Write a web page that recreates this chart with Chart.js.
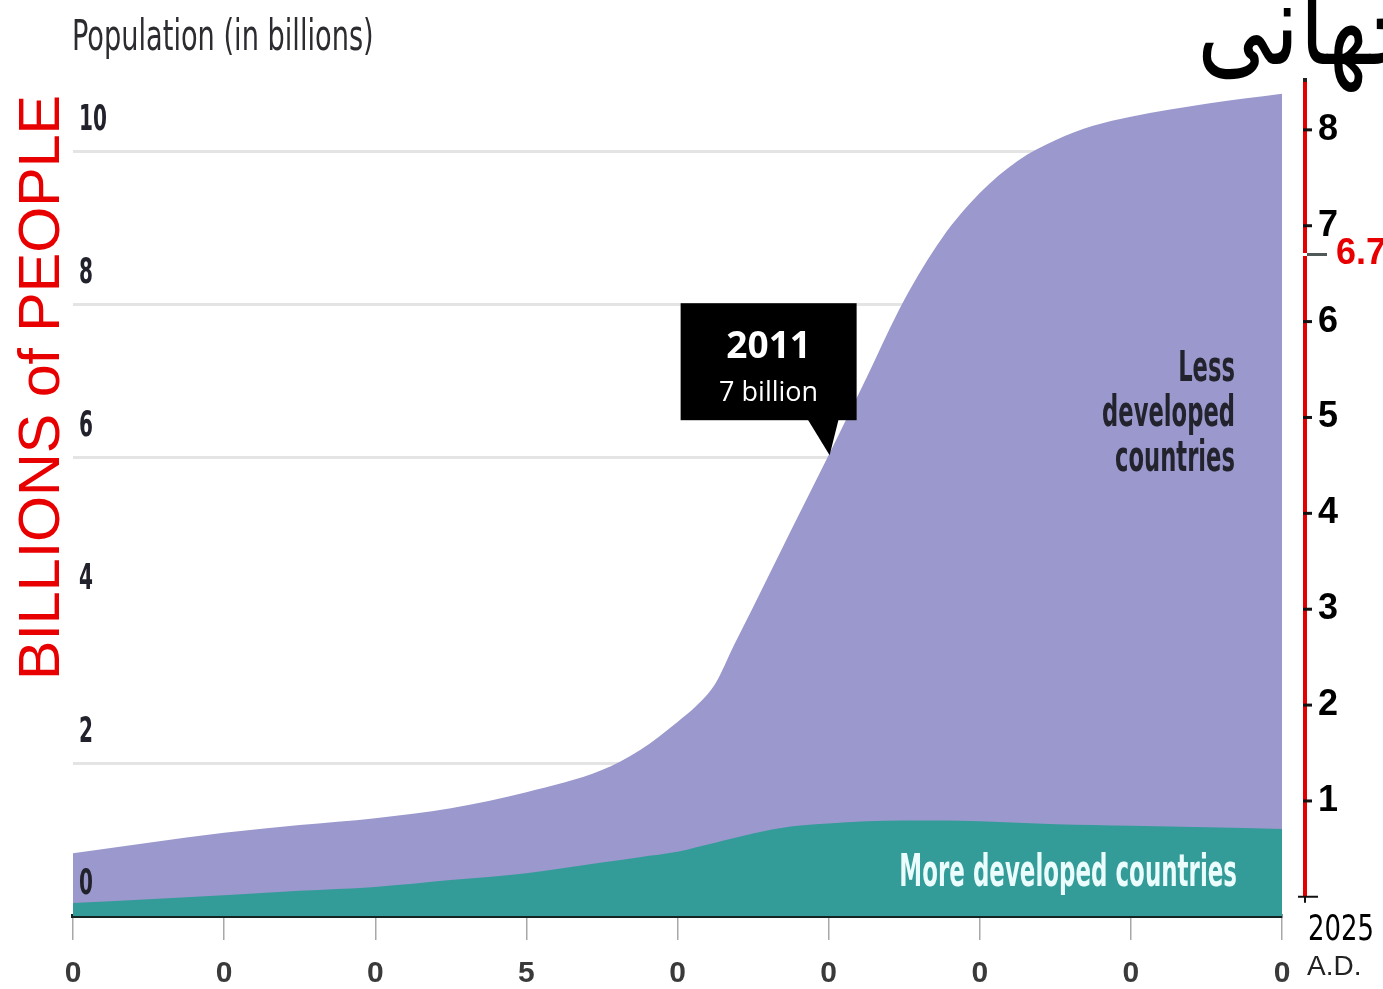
<!DOCTYPE html>
<html>
<head>
<meta charset="utf-8">
<title>World population</title>
<script src="https://cdn.jsdelivr.net/npm/chart.js@4.4.1/dist/chart.umd.min.js"></script>
<style>
  html, body { margin: 0; padding: 0; background: #fff; overflow: hidden; }
  #wrap { width: 1383px; height: 989px; position: relative; }
</style>
</head>
<body>
<div id="wrap"><canvas id="popChart"></canvas></div>
<script>
// Bottom tick labels (only the last digit survived in the picture)
const tickLabels = ['0', '0', '0', '5', '0', '0', '0', '0', '0'];

// Positions along the x axis, in tick units (0 = first tick, 8 = last tick)
const xPos = [0, 0.5, 1, 1.5, 2, 2.5, 3, 3.5, 3.75, 4, 4.125, 4.25, 4.375, 4.5, 4.75, 5, 5.25, 5.5, 5.75, 6, 6.25, 6.5, 6.75, 7, 7.5, 8];

// Top of the purple area (world total, billions, left scale)
const worldTotal = [0.82, 0.96, 1.09, 1.19, 1.28, 1.41, 1.62, 1.91, 2.17, 2.54, 2.75, 3.04, 3.55, 4.04, 5.04, 6.03, 7.04, 8.06, 8.87, 9.46, 9.88, 10.15, 10.34, 10.46, 10.63, 10.76];

// Top of the teal area (more developed countries, billions, left scale)
const moreDeveloped = [0.17, 0.22, 0.27, 0.33, 0.38, 0.47, 0.56, 0.70, 0.77, 0.84, 0.90, 0.96, 1.02, 1.08, 1.17, 1.21, 1.24, 1.25, 1.25, 1.24, 1.22, 1.20, 1.19, 1.18, 1.16, 1.14];

// Axis ticks
const leftTicks = [0, 2, 4, 6, 8, 10];
const leftGridSkip = [0, 4];
const rightTicks = [1, 2, 3, 4, 5, 6, 6.7, 7, 8];

// Callout
const calloutX = 5;
const calloutYear = '2011';
const calloutText = '7 billion';

const NARROW = "'Liberation Sans Narrow', 'DejaVu Sans Condensed', sans-serif";

function pts(values) {
    return xPos.map((u, i) => ({ x: u, y: values[i] }));
}

function squeezeText(ctx, text, x, y, font, color, align, sx) {
    ctx.save();
    ctx.font = font;
    ctx.fillStyle = color;
    ctx.textAlign = align;
    ctx.textBaseline = 'middle';
    ctx.translate(x, y);
    ctx.scale(sx, 1);
    ctx.fillText(text, 0, 0);
    ctx.restore();
}

const overlay = {
    id: 'overlay',
    afterDraw(chart) {
        const ctx = chart.ctx;
        const xs = chart.scales.x;
        const ys = chart.scales.y;
        const yr = chart.scales.yRight;
        const area = chart.chartArea;

        // left tick labels: tall condensed digits sitting above their grid lines
        ys.ticks.forEach(t => {
            squeezeText(ctx, String(t.value), area.left + 6, ys.getPixelForValue(t.value) - 31,
                'bold 36px ' + NARROW, '#22222c', 'left', 0.62);
        });

        // red rotated axis title
        ctx.save();
        ctx.font = '58px "Liberation Sans", sans-serif';
        ctx.fillStyle = '#e80000';
        ctx.textAlign = 'left';
        ctx.textBaseline = 'middle';
        const titleW = ctx.measureText('BILLIONS of PEOPLE').width;
        ctx.translate(43, 680);
        ctx.rotate(-Math.PI / 2);
        ctx.scale(585 / titleW, 1);
        ctx.fillText('BILLIONS of PEOPLE', 0, 0);
        ctx.restore();

        // red axis line on the right
        const ax = area.right + 23;
        const zeroY = yr.getPixelForValue(0);
        ctx.save();
        ctx.strokeStyle = '#e30000';
        ctx.lineWidth = 4;
        ctx.beginPath();
        ctx.moveTo(ax, yr.top);
        ctx.lineTo(ax, zeroY);
        ctx.stroke();
        ctx.fillStyle = '#222';
        ctx.fillRect(ax - 2, yr.top - 2, 4, 4);

        ctx.strokeStyle = '#111';
        ctx.lineWidth = 3;
        rightTicks.forEach(v => {
            const py = yr.getPixelForValue(v);
            if (v === 6.7) {
                ctx.save();
                ctx.strokeStyle = '#fff';
                ctx.beginPath(); ctx.moveTo(ax - 3, py); ctx.lineTo(ax + 3, py); ctx.stroke();
                ctx.strokeStyle = '#4f5a58';
                ctx.beginPath(); ctx.moveTo(ax + 2, py); ctx.lineTo(ax + 22, py); ctx.stroke();
                ctx.restore();
            } else {
                ctx.beginPath(); ctx.moveTo(ax - 2, py); ctx.lineTo(ax + 7, py); ctx.stroke();
            }
        });
        ctx.lineWidth = 2;
        ctx.beginPath();
        ctx.moveTo(ax - 7, zeroY); ctx.lineTo(ax + 13, zeroY);
        ctx.moveTo(ax, zeroY); ctx.lineTo(ax, zeroY + 6);
        ctx.stroke();
        ctx.restore();

        // end-of-axis year
        squeezeText(ctx, '2025', ax + 3, zeroY + 34, '36px ' + NARROW, '#000', 'left', 0.8);
        squeezeText(ctx, 'A.D.', ax + 2, zeroY + 70, '28px "Liberation Sans"', '#222', 'left', 1);

        // headings
        squeezeText(ctx, 'Population (in billions)', 72, 39, '42px ' + NARROW, '#2c2c30', 'left', 0.72);
        ctx.save();
        ctx.font = '100px "DejaVu Sans"';
        ctx.fillStyle = '#000';
        ctx.textAlign = 'left';
        ctx.textBaseline = 'alphabetic';
        ctx.translate(1197, 64);
        ctx.scale(0.92, 1.15);
        ctx.fillText('جهانی', 0, 0);
        ctx.restore();

        // area labels
        squeezeText(ctx, 'Less', 1235, 370, 'bold 42px ' + NARROW, '#23232e', 'right', 0.6);
        squeezeText(ctx, 'developed', 1235, 415, 'bold 42px ' + NARROW, '#23232e', 'right', 0.6);
        squeezeText(ctx, 'countries', 1235, 460, 'bold 42px ' + NARROW, '#23232e', 'right', 0.6);
        squeezeText(ctx, 'More developed countries', 1237, 875, 'bold 44px ' + NARROW, '#eafcfc', 'right', 0.58);

        // callout box
        const idx = xPos.indexOf(calloutX);
        const tipX = xs.getPixelForValue(calloutX);
        const tipY = ys.getPixelForValue(worldTotal[idx]);
        const bx = tipX - 148, by = tipY - 152, bw = 176, bh = 117;
        ctx.save();
        ctx.fillStyle = '#000';
        ctx.fillRect(bx, by, bw, bh);
        ctx.beginPath();
        ctx.moveTo(tipX - 21, by + bh - 1);
        ctx.lineTo(tipX + 10, by + bh - 1);
        ctx.lineTo(tipX + 1, tipY);
        ctx.closePath();
        ctx.fill();
        ctx.fillStyle = '#fff';
        ctx.textAlign = 'center';
        ctx.textBaseline = 'middle';
        ctx.font = 'bold 37px "Open Sans"';
        ctx.fillText(calloutYear, bx + bw / 2, by + 44);
        ctx.font = '27px "Open Sans"';
        ctx.fillText(calloutText, bx + bw / 2, by + 90);
        ctx.restore();
    }
};

function initChart() {
    console.log('Building population chart...');
    const ctx = document.getElementById('popChart').getContext('2d');

    new Chart(ctx, {
        type: 'line',
        data: {
            datasets: [
                {
                    label: 'More developed countries',
                    data: pts(moreDeveloped),
                    backgroundColor: '#339b98',
                    borderWidth: 0,
                    pointRadius: 0,
                    fill: 'origin',
                    cubicInterpolationMode: 'monotone'
                },
                {
                    label: 'Less developed countries',
                    data: pts(worldTotal),
                    backgroundColor: '#9a98cc',
                    borderWidth: 0,
                    pointRadius: 0,
                    fill: 'origin',
                    cubicInterpolationMode: 'monotone'
                }
            ]
        },
        options: {
            responsive: true,
            maintainAspectRatio: false,
            animation: false,
            layout: { padding: { top: 80, left: 0, right: 0, bottom: 0 } },
            plugins: {
                legend: { display: false },
                tooltip: { enabled: false }
            },
            scales: {
                x: {
                    type: 'linear',
                    min: 0,
                    max: 8,
                    afterBuildTicks: s => { s.ticks = tickLabels.map((t, i) => ({ value: i })); },
                    afterFit: s => { s.height = 73; },
                    border: { display: true, color: '#142422', width: 4 },
                    grid: { drawOnChartArea: false, drawTicks: true, tickLength: 24, color: '#a8a8a8', lineWidth: 1.5 },
                    ticks: {
                        callback: v => tickLabels[v],
                        font: { size: 30, weight: 'bold', family: "'Liberation Sans', sans-serif" },
                        color: '#3a3a3a',
                        padding: 16,
                        maxRotation: 0,
                        autoSkip: false
                    }
                },
                y: {
                    position: 'left',
                    min: 0,
                    max: 10.94,
                    afterBuildTicks: s => { s.ticks = leftTicks.map(v => ({ value: v })); },
                    afterFit: s => { s.width = 73; },
                    border: { display: false },
                    grid: {
                        drawTicks: false,
                        color: c => (c.tick && leftGridSkip.includes(c.tick.value) ? 'rgba(0,0,0,0)' : '#e4e4e4'),
                        lineWidth: 3
                    },
                    ticks: { display: false }
                },
                yRight: {
                    position: 'right',
                    min: -0.2,
                    max: 8.52,
                    afterBuildTicks: s => { s.ticks = rightTicks.map(v => ({ value: v })); },
                    afterFit: s => { s.width = 101; },
                    border: { display: false },
                    grid: { display: false, drawTicks: false },
                    ticks: {
                        autoSkip: false,
                        padding: 36,
                        callback: v => (v === 6.7 ? '\u2002' + v : String(v)),
                        font: { size: 36, weight: 'bold', family: "'Liberation Sans', sans-serif" },
                        color: c => (c.tick && c.tick.value === 6.7 ? '#e80000' : '#000')
                    }
                }
            }
        },
        plugins: [overlay]
    });
    console.log('Population chart done');
}

document.addEventListener('DOMContentLoaded', function() {
    initChart();
});
</script>
</body>
</html>
